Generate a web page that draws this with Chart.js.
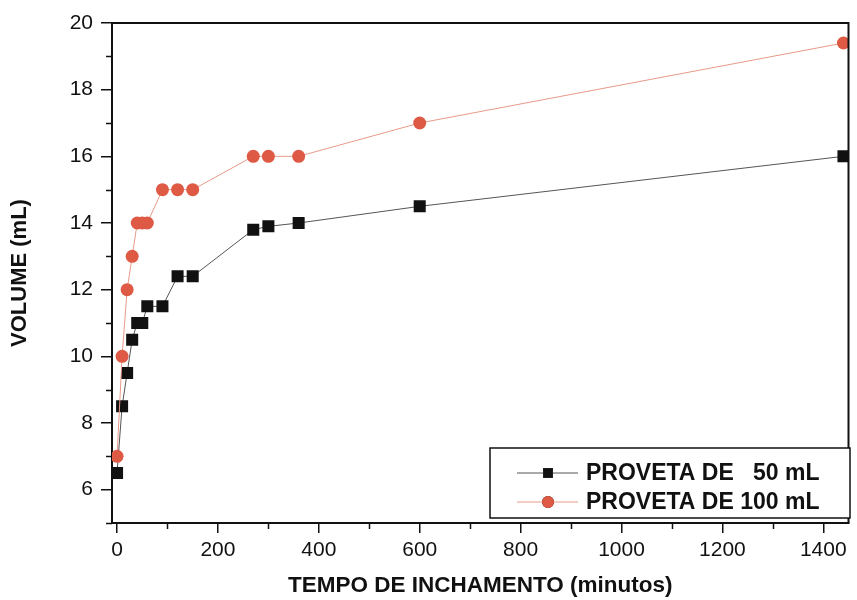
<!DOCTYPE html>
<html>
<head>
<meta charset="utf-8">
<script src="https://cdn.jsdelivr.net/npm/chart.js@4"></script>
<style>
  html, body { margin: 0; padding: 0; background: #fff; }
</style>
</head>
<body>
<canvas id="myChart" width="857" height="600"></canvas>
<script>
// Tempo de inchamento (minutos)
const tempo = [0, 10, 20, 30, 40, 50, 60, 90, 120, 150, 270, 300, 360, 600, 1440];
// Volume (mL) for each proveta
const proveta50 = [6.5, 8.5, 9.5, 10.5, 11, 11, 11.5, 11.5, 12.4, 12.4, 13.8, 13.9, 14, 14.5, 16];
const proveta100 = [7, 10, 12, 13, 14, 14, 14, 15, 15, 15, 16, 16, 16, 17, 19.4];

// Axis ticks
const xTicks = [0, 200, 400, 600, 800, 1000, 1200, 1400];
const xMinorTicks = [100, 300, 500, 700, 900, 1100, 1300];
const yTicks = [6, 8, 10, 12, 14, 16, 18, 20];
const yMinorTicks = [5, 7, 9, 11, 13, 15, 17, 19];

const BLACK = '#111111';
const RED = '#DE5A45';
const FONT = '"Liberation Sans", Arial, sans-serif';
const TICK_FONT = { family: FONT, size: 21 };

const toPoints = (ys) => tempo.map((t, i) => ({ x: t, y: ys[i] }));

// frame, minor ticks and the boxed legend
const framePlugin = {
  id: 'frame',
  afterDraw(chart) {
    const { ctx, chartArea: a, scales: { x, y } } = chart;
    ctx.save();
    ctx.strokeStyle = BLACK;
    ctx.lineWidth = 2;
    ctx.beginPath();
    ctx.moveTo(a.left, a.top);
    ctx.lineTo(a.right, a.top);
    ctx.lineTo(a.right, a.bottom);
    ctx.stroke();

    ctx.lineWidth = 1.5;
    ctx.beginPath();
    xMinorTicks.forEach(v => {
      const px = Math.round(x.getPixelForValue(v)) + 0.5;
      ctx.moveTo(px, a.bottom);
      ctx.lineTo(px, a.bottom + 6);
    });
    yMinorTicks.forEach(v => {
      const py = Math.round(y.getPixelForValue(v)) + 0.5;
      ctx.moveTo(a.left, py);
      ctx.lineTo(a.left - 6, py);
    });
    ctx.stroke();

    // legend box
    const box = { left: 490, top: 448, right: 850, bottom: 518 };
    ctx.fillStyle = '#fff';
    ctx.fillRect(box.left, box.top, box.right - box.left, box.bottom - box.top);
    ctx.lineWidth = 1.5;
    ctx.strokeStyle = BLACK;
    ctx.strokeRect(box.left, box.top, box.right - box.left, box.bottom - box.top);

    const rows = [473, 502];
    chart.data.datasets.forEach((ds, i) => {
      const ry = rows[i];
      ctx.strokeStyle = ds.borderColor;
      ctx.lineWidth = 1;
      ctx.beginPath();
      ctx.moveTo(517, ry);
      ctx.lineTo(578, ry);
      ctx.stroke();
      Chart.helpers.drawPoint(ctx, {
        pointStyle: ds.pointStyle,
        radius: ds.pointStyle === 'rect' ? 7 : 6,
        borderWidth: 0
      }, 548, ry);
      ctx.fillStyle = ds.pointBackgroundColor;
      ctx.fill();
      ctx.fillStyle = BLACK;
      ctx.font = 'bold 23px ' + FONT;
      ctx.textBaseline = 'middle';
      ctx.fillText(ds.label, 586, ry + 1);
    });
    ctx.restore();
  }
};

new Chart(document.getElementById('myChart'), {
  type: 'line',
  data: {
    datasets: [
      {
        label: 'PROVETA DE   50 mL',
        data: toPoints(proveta50),
        borderColor: '#555555',
        borderWidth: 1,
        pointStyle: 'rect',
        pointRadius: 8.5,
        pointBackgroundColor: BLACK,
        pointBorderWidth: 0,
        order: 2
      },
      {
        label: 'PROVETA DE 100 mL',
        data: toPoints(proveta100),
        borderColor: '#E89A88',
        borderWidth: 1,
        pointStyle: 'circle',
        pointRadius: 6.5,
        pointBackgroundColor: RED,
        pointBorderWidth: 0,
        order: 1
      }
    ]
  },
  options: {
    responsive: false,
    animation: false,
    layout: { padding: { top: 23, right: 2, left: 0, bottom: 0 } },
    plugins: { legend: { display: false }, tooltip: { enabled: false } },
    scales: {
      x: {
        type: 'linear',
        min: -10,
        max: 1450,
        afterBuildTicks: (scale) => { scale.ticks = xTicks.map(v => ({ value: v })); },
        afterFit: (scale) => { scale.height = 77; },
        border: { color: BLACK, width: 2 },
        grid: { drawOnChartArea: false, tickLength: 10, color: BLACK, lineWidth: 1.5 },
        ticks: { color: BLACK, font: TICK_FONT, padding: 5, maxRotation: 0, callback: v => String(v) },
        title: {
          display: true,
          text: 'TEMPO DE INCHAMENTO (minutos)',
          color: BLACK,
          font: { family: FONT, size: 22.5, weight: 'bold' },
          padding: { top: 0, bottom: 1 }
        }
      },
      y: {
        min: 5,
        max: 20,
        afterBuildTicks: (scale) => { scale.ticks = yTicks.map(v => ({ value: v })); },
        afterFit: (scale) => { scale.width = 112; },
        border: { color: BLACK, width: 2 },
        grid: { drawOnChartArea: false, tickLength: 11, color: BLACK, lineWidth: 1.5 },
        ticks: { color: BLACK, font: TICK_FONT, padding: 8, callback: v => String(v) },
        title: {
          display: true,
          text: 'VOLUME (mL)',
          color: BLACK,
          font: { family: FONT, size: 22, weight: 'bold' },
          padding: { top: 7, bottom: 0 }
        }
      }
    }
  },
  plugins: [framePlugin]
});
</script>
</body>
</html>
